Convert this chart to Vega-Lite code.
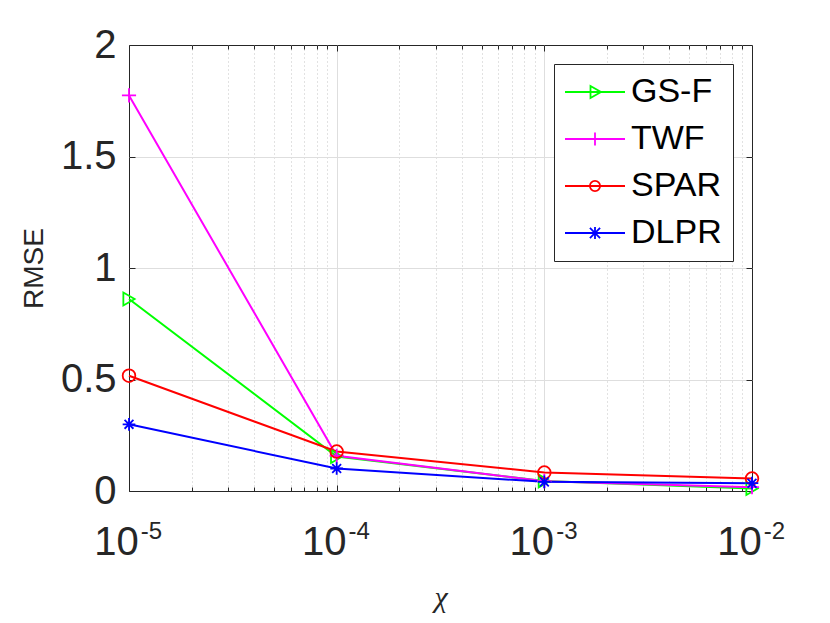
{
  "$schema": "https://vega.github.io/schema/vega-lite/v6.json",
  "width": 623,
  "height": 446,
  "autosize": {"type": "none"},
  "padding": {"left": 129, "top": 45, "right": 78, "bottom": 132},
  "background": "white",
  "config": {
    "view": {"stroke": "#262626", "strokeWidth": 1},
    "font": "Liberation Sans",
    "axis": {
      "labelFont": "Liberation Sans",
      "labelColor": "#262626",
      "tickColor": "#262626",
      "tickWidth": 1,
      "domain": false,
      "titleColor": "#262626",
      "gridColor": "#dedede",
      "gridWidth": 1,
      "labelFlush": false,
      "labelOverlap": false,
      "labelBound": false
    },
    "legend": {"symbolOpacity": 1}
  },
  "data": {
    "values": [
      {"chi": 0.00001, "rmse": 0.861, "method": "GS-F"},
      {"chi": 0.0001, "rmse": 0.155, "method": "GS-F"},
      {"chi": 0.001, "rmse": 0.045, "method": "GS-F"},
      {"chi": 0.01, "rmse": 0.011, "method": "GS-F"},
      {"chi": 0.00001, "rmse": 1.774, "method": "TWF"},
      {"chi": 0.0001, "rmse": 0.158, "method": "TWF"},
      {"chi": 0.001, "rmse": 0.044, "method": "TWF"},
      {"chi": 0.01, "rmse": 0.017, "method": "TWF"},
      {"chi": 0.00001, "rmse": 0.517, "method": "SPAR"},
      {"chi": 0.0001, "rmse": 0.177, "method": "SPAR"},
      {"chi": 0.001, "rmse": 0.083, "method": "SPAR"},
      {"chi": 0.01, "rmse": 0.056, "method": "SPAR"},
      {"chi": 0.00001, "rmse": 0.299, "method": "DLPR"},
      {"chi": 0.0001, "rmse": 0.101, "method": "DLPR"},
      {"chi": 0.001, "rmse": 0.041, "method": "DLPR"},
      {"chi": 0.01, "rmse": 0.035, "method": "DLPR"}
    ]
  },
  "resolve": {"axis": {"x": "independent", "y": "independent"}},
  "layer": [
    {
      "mark": {"type": "point", "opacity": 0},
      "encoding": {
        "x": {
          "field": "chi",
          "type": "quantitative",
          "scale": {"type": "log", "domain": [0.00001, 0.01]},
          "axis": {
            "orient": "bottom",
            "values": [0.00001, 0.0001, 0.001, 0.01],
            "labelExpr": "'' + round(log(datum.value) / LN10)",
            "labelFontSize": 24,
            "labelOffset": 22,
            "ticks": false,
            "labelPadding": 28,
            "grid": false,
            "title": null
          }
        },
        "y": {
          "field": "rmse",
          "type": "quantitative",
          "scale": {"domain": [0, 2]},
          "axis": {
            "orient": "right",
            "values": [0.5, 1, 1.5],
            "labels": false,
            "tickSize": -6,
            "grid": true,
            "title": null
          }
        },
        "color": {
          "field": "method",
          "type": "nominal",
          "scale": {
            "domain": ["GS-F", "TWF", "SPAR", "DLPR"],
            "range": ["#00ff00", "#ff00ff", "#ff0000", "#0000ff"]
          },
          "legend": {
            "title": null,
            "orient": "top-right",
            "offset": 19,
            "padding": 11,
            "strokeColor": "#262626",
            "fillColor": "white",
            "labelFontSize": 34,
            "labelColor": "#000000",
            "labelFont": "Liberation Sans",
            "symbolSize": 900,
            "symbolOffset": 13,
            "symbolStrokeWidth": 1.8,
            "symbolOpacity": 1,
            "labelOffset": 19,
            "rowPadding": 13
          }
        },
        "shape": {
          "field": "method",
          "type": "nominal",
          "scale": {
            "domain": ["GS-F", "TWF", "SPAR", "DLPR"],
            "range": [
              "M-2,0L2,0M-0.3,-0.4L0.4,0L-0.3,0.4Z",
              "M-2,0L2,0M0,-0.44L0,0.44",
              "M-2,0L2,0M-0.34,0A0.34,0.34 0 1,0 0.34,0A0.34,0.34 0 1,0 -0.34,0",
              "M-2,0L2,0M0,-0.4L0,0.4M-0.34,-0.34L0.34,0.34M-0.34,0.34L0.34,-0.34"
            ]
          },
          "legend": {
            "title": null,
            "orient": "top-right",
            "offset": 19,
            "padding": 11,
            "strokeColor": "#262626",
            "fillColor": "white",
            "labelFontSize": 34,
            "labelColor": "#000000",
            "labelFont": "Liberation Sans",
            "symbolSize": 900,
            "symbolOffset": 13,
            "symbolStrokeWidth": 1.8,
            "symbolOpacity": 1,
            "labelOffset": 19,
            "rowPadding": 13
          }
        }
      }
    },
    {
      "mark": {"type": "line", "strokeWidth": 2},
      "encoding": {
        "x": {
          "field": "chi",
          "type": "quantitative",
          "axis": {
            "orient": "bottom",
            "values": [0.00001, 0.0001, 0.001, 0.01],
            "labelExpr": "'10'",
            "labelFontSize": 40,
            "labelOffset": -13,
            "tickSize": -6,
            "labelPadding": 37,
            "grid": false,
            "title": "χ",
            "titleFont": "Liberation Serif",
            "titleFontStyle": "italic",
            "titleFontWeight": "normal",
            "titleFontSize": 30,
            "titlePadding": 20
          }
        },
        "y": {
          "field": "rmse",
          "type": "quantitative",
          "axis": {
            "orient": "left",
            "values": [0, 0.5, 1, 1.5, 2],
            "format": "~g",
            "labelFontSize": 40,
            "tickSize": -6,
            "labelPadding": 19,
            "grid": false,
            "title": "RMSE",
            "titleFontSize": 28,
            "titleFontWeight": "normal",
            "titlePadding": 12
          }
        },
        "color": {"field": "method", "type": "nominal"}
      }
    },
    {
      "transform": [{"filter": {"field": "method", "equal": "GS-F"}}],
      "mark": {"type": "point", "shape": "triangle-right", "filled": false, "size": 170, "strokeWidth": 1.8, "opacity": 1},
      "encoding": {
        "x": {"field": "chi", "type": "quantitative", "axis": null},
        "y": {"field": "rmse", "type": "quantitative", "axis": null},
        "color": {"field": "method", "type": "nominal"}
      }
    },
    {
      "transform": [{"filter": {"field": "method", "equal": "TWF"}}],
      "mark": {"type": "point", "shape": "M0,-1L0,1M-1,0L1,0", "filled": false, "size": 200, "strokeWidth": 1.8, "opacity": 1},
      "encoding": {
        "x": {"field": "chi", "type": "quantitative", "axis": null},
        "y": {"field": "rmse", "type": "quantitative", "axis": null},
        "color": {"field": "method", "type": "nominal"}
      }
    },
    {
      "transform": [{"filter": {"field": "method", "equal": "SPAR"}}],
      "mark": {"type": "point", "shape": "circle", "filled": false, "size": 160, "strokeWidth": 1.8, "opacity": 1},
      "encoding": {
        "x": {"field": "chi", "type": "quantitative", "axis": null},
        "y": {"field": "rmse", "type": "quantitative", "axis": null},
        "color": {"field": "method", "type": "nominal"}
      }
    },
    {
      "transform": [{"filter": {"field": "method", "equal": "DLPR"}}],
      "mark": {"type": "point", "shape": "M0,-1L0,1M-1,0L1,0M-0.7,-0.7L0.7,0.7M-0.7,0.7L0.7,-0.7", "filled": false, "size": 160, "strokeWidth": 1.8, "opacity": 1},
      "encoding": {
        "x": {"field": "chi", "type": "quantitative", "axis": null},
        "y": {"field": "rmse", "type": "quantitative", "axis": null},
        "color": {"field": "method", "type": "nominal"}
      }
    },
    {
      "mark": {"type": "point", "opacity": 0},
      "encoding": {
        "x": {
          "field": "chi",
          "type": "quantitative",
          "axis": {
            "orient": "bottom",
            "values": [0.00002, 0.00003, 0.00004, 0.00005, 0.00006, 0.00007, 0.00008, 0.00009, 0.0002, 0.0003, 0.0004, 0.0005, 0.0006, 0.0007, 0.0008, 0.0009, 0.002, 0.003, 0.004, 0.005, 0.006, 0.007, 0.008, 0.009],
            "labels": false,
            "tickSize": -4,
            "grid": true,
            "gridDash": [1, 3],
            "gridColor": "#c4c4c4",
            "title": null
          }
        },
        "y": {"field": "rmse", "type": "quantitative", "axis": null}
      }
    },
    {
      "mark": {"type": "point", "opacity": 0},
      "encoding": {
        "x": {
          "field": "chi",
          "type": "quantitative",
          "axis": {
            "orient": "top",
            "values": [0.00002, 0.00003, 0.00004, 0.00005, 0.00006, 0.00007, 0.00008, 0.00009, 0.0002, 0.0003, 0.0004, 0.0005, 0.0006, 0.0007, 0.0008, 0.0009, 0.002, 0.003, 0.004, 0.005, 0.006, 0.007, 0.008, 0.009],
            "labels": false,
            "tickSize": -4,
            "grid": false,
            "title": null
          }
        },
        "y": {"field": "rmse", "type": "quantitative", "axis": null}
      }
    },
    {
      "mark": {"type": "point", "opacity": 0},
      "encoding": {
        "x": {
          "field": "chi",
          "type": "quantitative",
          "axis": {
            "orient": "top",
            "values": [0.0001, 0.001],
            "labels": false,
            "tickSize": -6,
            "grid": true,
            "title": null
          }
        },
        "y": {"field": "rmse", "type": "quantitative", "axis": null}
      }
    }
  ]
}
